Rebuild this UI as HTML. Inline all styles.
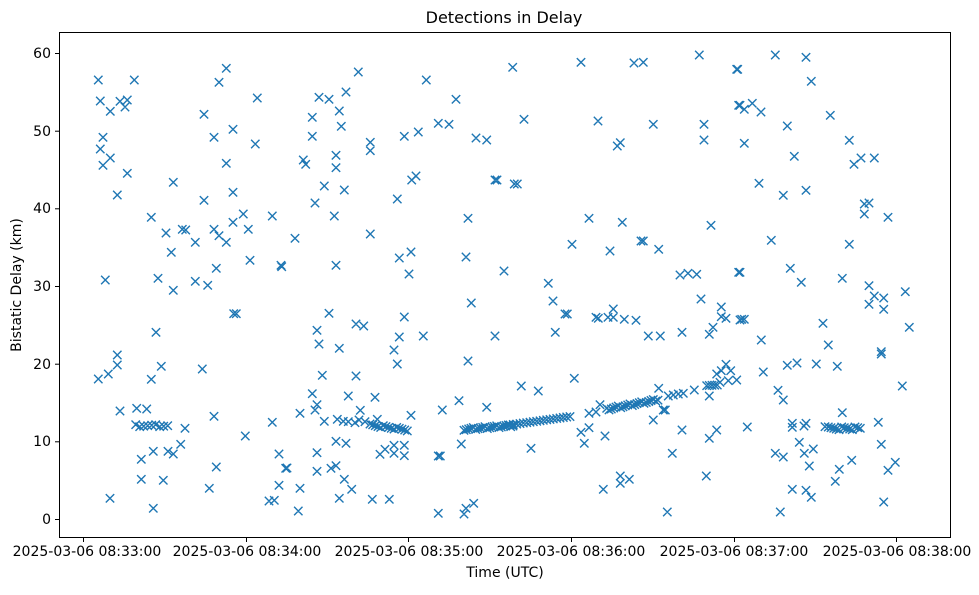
<!DOCTYPE html>
<html><head><meta charset="utf-8"><style>
html,body{margin:0;padding:0;background:#fff;}
svg text{font-family:"DejaVu Sans","Liberation Sans",sans-serif;fill:#000;}
</style></head><body>
<svg id="s" width="979" height="590" xmlns="http://www.w3.org/2000/svg">
<rect width="979" height="590" fill="#fff"/>
<path id="pts" fill="none" stroke="#1f77b4" stroke-width="1.4" d=""/>
<rect x="59.5" y="32.5" width="891" height="505" fill="none" stroke="#000" stroke-width="1"/>
<g stroke="#000" stroke-width="1">
<line x1="83.5" y1="537" x2="83.5" y2="542"/><line x1="246.5" y1="537" x2="246.5" y2="542"/><line x1="408.5" y1="537" x2="408.5" y2="542"/><line x1="571.5" y1="537" x2="571.5" y2="542"/><line x1="734.5" y1="537" x2="734.5" y2="542"/><line x1="896.5" y1="537" x2="896.5" y2="542"/>
<line x1="55" y1="519.5" x2="59" y2="519.5"/><line x1="55" y1="441.8" x2="59" y2="441.8"/><line x1="55" y1="364.2" x2="59" y2="364.2"/><line x1="55" y1="286.5" x2="59" y2="286.5"/><line x1="55" y1="208.8" x2="59" y2="208.8"/><line x1="55" y1="131.2" x2="59" y2="131.2"/><line x1="55" y1="53.5" x2="59" y2="53.5"/>
</g>
<g font-size="14" text-anchor="middle">
<text x="87" y="556">2025-03-06 08:33:00</text><text x="247" y="556">2025-03-06 08:34:00</text><text x="409" y="556">2025-03-06 08:35:00</text><text x="571" y="556">2025-03-06 08:36:00</text><text x="734" y="556">2025-03-06 08:37:00</text><text x="897" y="556">2025-03-06 08:38:00</text>
</g>
<g font-size="14" text-anchor="end">
<text x="51" y="524">0</text><text x="51" y="446">10</text><text x="51" y="369">20</text><text x="51" y="291">30</text><text x="51" y="213">40</text><text x="51" y="136">50</text><text x="51" y="58">60</text>
</g>
<text x="505" y="577" font-size="14" text-anchor="middle">Time (UTC)</text>
<text x="21" y="285" font-size="14" text-anchor="middle" transform="rotate(-90 21 285)">Bistatic Delay (km)</text>
<text x="504" y="23" font-size="16" text-anchor="middle">Detections in Delay</text>
</svg>
<script>
var P=[
[59,[118,150,226,150,502,115,480,157,595,204,124,213,154,244,183,214,205,210,198,231,435,253,522,298,465,322,132,322,589,342,124,357,154,384,132,406,502,400,205,430,343,457,175,495,522,487,435,511,277,562,553,552,640,558,522,577,465,598,568,598,321,609,370,598,380,600,480,617,409,637,502,637,337,667,573,691,472,715,666,706,668,710,139,750,297,745,409,754,446,766,343,781,524,851,532,851,291,907,175,975,175,1005,307,1009,148,1032,118,1047,277,1048,430,1017,183,1143,233,1135,263,1137,465,1159,640,1177,378,1195,559,1218,365,1243,283,1264,327,1264,343,1272,247,1288,660,1272,680,1315,472,1311,247,1348,313,1351,660,1366,451,1375,153,1405,630,1413,646,1411,283,1435]],
[285,[220,126,424,150,683,112,102,202,132,208,183,186,513,208,163,243,82,262,169,289,460,280,492,283,82,319,256,337,256,362,358,319,400,306,573,324,605,330,153,376,55,390,62,403,153,413,380,450,393,438,630,450,636,450,688,462,118,468,178,480,90,519,337,507,148,558,549,565,30,625,256,612,153,706,343,684,378,666,543,681,372,732,657,723,132,850,358,861,559,819,96,901,213,882,236,888,102,942,163,955,343,921,415,918,630,918,327,960,337,1002,549,993,112,1036,213,1038,82,1091,190,1098,270,1102,96,1124,90,1140,45,1150,226,1141,522,1112,472,1140,605,1132,378,1156,118,1174,157,1168,175,1174,190,1175,210,1178,222,1170,240,1175,277,1168,153,1234,183,1240,529,1242,96,1268,285,1273,300,1258,327,1246,327,1270,358,1246,358,1277,460,1278,466,1278,6,1314,96,1324,138,1315,153,1307,178,1348,200,1378,45,1375,163,1405,262,1408,313,1408,40,1443,460,1450,537,1452,543,1435,566,1420]],
[510,[213,97,372,99,400,97,568,75,680,118,42,268,264,273,430,283,582,283,582,330,322,348,331,338,686,226,22,462,237,565,337,577,603,586,186,643,300,663,393,633,400,633,446,658,115,760,510,735,534,730,560,733,686,727,129,813,573,807,165,852,172,852,258,862,265,865,294,862,310,862,310,837,343,868,378,871,634,831,634,860,648,865,690,870,136,907,415,918,451,918,516,907,598,913,609,892,34,1068,85,1083,193,1045,446,1075,648,1003,620,1032,634,1022,662,1022,598,1098,237,1150,258,1146,270,1124,475,1098,490,1095,505,1092,520,1090,553,1080,655,1052,680,1050,213,1207,223,1240,237,1193,285,1218,430,1170,460,1140,466,1140,516,1200,598,1225,620,1200,63,1255,487,1270,280,1378,331,1338,331,1360,358,1348,589,1338,472,1446]],
[735,[8,118,121,75,213,82,229,154,15,226,28,238,52,220,78,246,286,256,157,288,28,340,343,331,178,379,357,403,378,384,418,384,72,460,145,496,213,481,388,522,402,519,388,552,459,562,109,631,343,643,15,727,166,715,199,757,322,745,402,767,418,798,446,804,402,823,446,838,511,785,20,868,28,868,264,880,523,892,79,930,280,945,439,965,439,972,157,1006,186,999,244,1002,307,1009,85,1026,5,1050,502,1068,129,1081,145,1110,322,1148,430,1177,37,1191,172,1180,172,1192,207,1188,213,1180,270,1190,193,1237,208,1270,235,1257,439,1243,121,1270,145,1281,223,1308,350,1291,313,1318,481,1297,459,1321,301,1354,172,1378,213,1381,229,1402,446,1416,136,1446]]];
var pts=[];
P.forEach(function(p){var a=p[1];for(var i=0;i<a.length;i+=2)pts.push([p[0]+a[i]/3,30+a[i+1]/3]);});
function line(x0,zx1,zx2,zy1,zy2,st,j){for(var x=zx1;x<=zx2;x+=st){var t=(x-zx1)/(zx2-zx1||1);var y=zy1+(zy2-zy1)*t+(j?((x*7)%5-2)*j:0);pts.push([x0+x/3,30+y/3]);}}
line(59,230,335,1187,1187,12,1.5);
line(285,255,370,1185,1200,8,1.5);
line(285,537,690,1198,1186,7,1.5);
line(510,0,185,1188,1162,10,1.5);
line(510,290,450,1138,1108,7,1.5);
line(510,590,630,1070,1060,8,1.5);
line(735,280,380,1195,1195,8,2);
var d="",h=4.2;
pts.forEach(function(q){var x=q[0].toFixed(1)*1,y=q[1].toFixed(1)*1;d+="M"+(x-h)+" "+(y-h)+"L"+(x+h)+" "+(y+h)+"M"+(x-h)+" "+(y+h)+"L"+(x+h)+" "+(y-h);});
document.getElementById("pts").setAttribute("d",d);
</script>
</body></html>
